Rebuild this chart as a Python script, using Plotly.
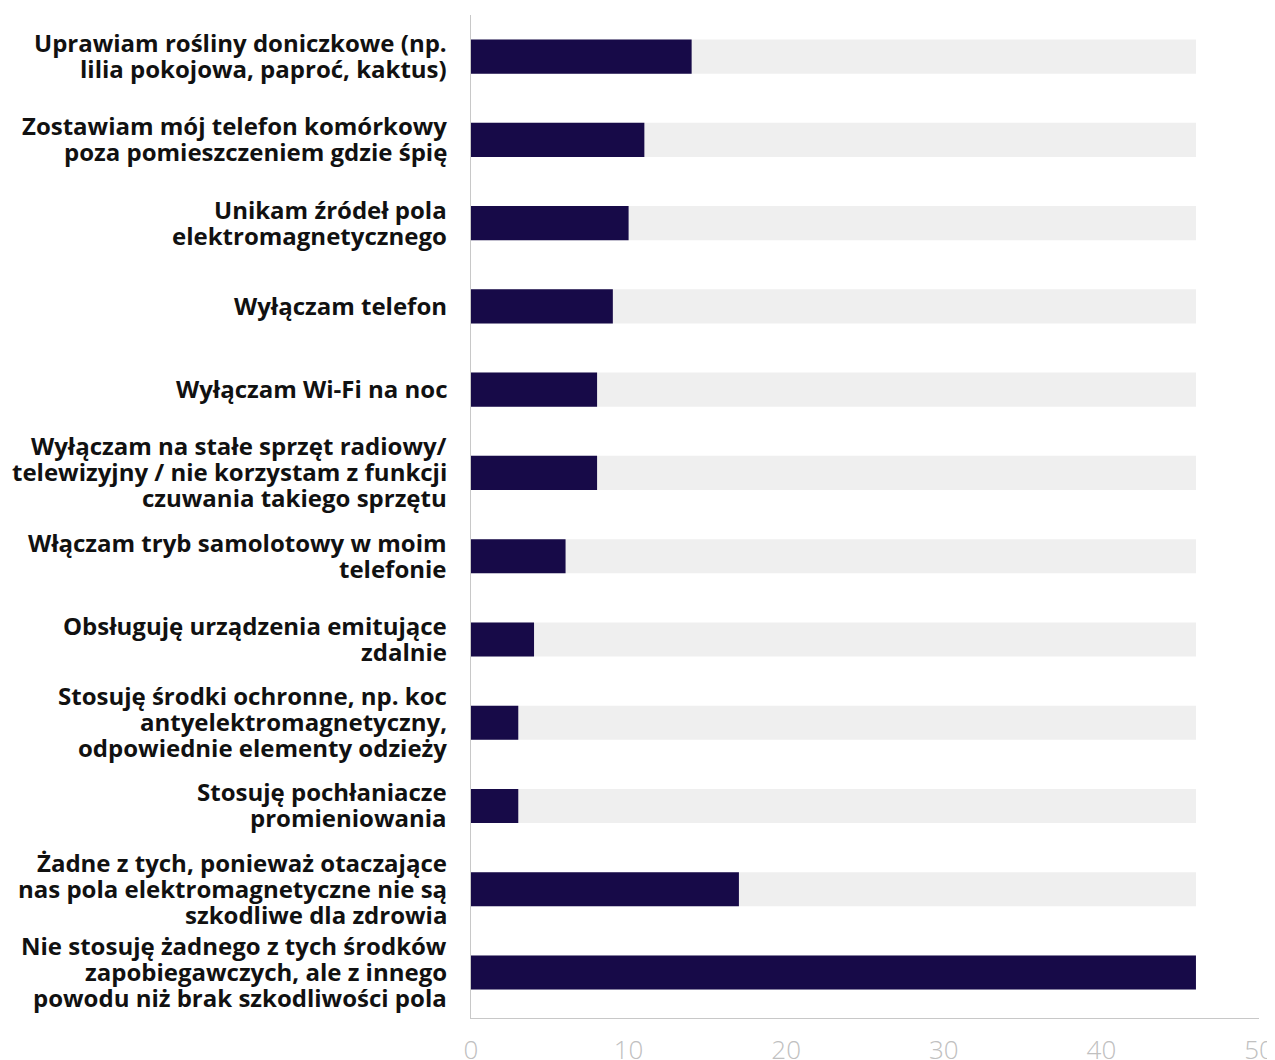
import plotly.graph_objects as go

categories = [
    "Uprawiam rośliny doniczkowe (np.<br>lilia pokojowa, paproć, kaktus)",
    "Zostawiam mój telefon komórkowy<br>poza pomieszczeniem gdzie śpię",
    "Unikam źródeł pola<br>elektromagnetycznego",
    "Wyłączam telefon",
    "Wyłączam Wi-Fi na noc",
    "Wyłączam na stałe sprzęt radiowy/<br>telewizyjny / nie korzystam z funkcji<br>czuwania takiego sprzętu",
    "Włączam tryb samolotowy w moim<br>telefonie",
    "Obsługuję urządzenia emitujące<br>zdalnie",
    "Stosuję środki ochronne, np. koc<br>antyelektromagnetyczny,<br>odpowiednie elementy odzieży",
    "Stosuję pochłaniacze<br>promieniowania",
    "Żadne z tych, ponieważ otaczające<br>nas pola elektromagnetyczne nie są<br>szkodliwe dla zdrowia",
    "Nie stosuję żadnego z tych środków<br>zapobiegawczych, ale z innego<br>powodu niż brak szkodliwości pola",
]
values = [14, 11, 10, 9, 8, 8, 6, 4, 3, 3, 17, 46]
background = [46] * len(values)
x_ticks = [0, 10, 20, 30, 40, 50]

fig = go.Figure()
fig.add_trace(go.Bar(
    y=categories, x=background, orientation="h",
    marker=dict(color="#efefef", line=dict(width=0)),
    width=0.41, hoverinfo="skip", showlegend=False,
))
fig.add_trace(go.Bar(
    y=categories, x=values, orientation="h",
    marker=dict(color="#170a48", line=dict(width=0)),
    width=0.41, showlegend=False,
))

# category labels, one annotation per line for tight line spacing
LINE_H = 26
for cat in categories:
    lines = cat.split("<br>")
    n = len(lines)
    for i, line in enumerate(lines):
        fig.add_annotation(
            x=0, xref="paper", y=cat, yref="y",
            text=line, showarrow=False,
            xanchor="right", yanchor="middle", align="right",
            xshift=-22, yshift=((n - 1) / 2 - i) * LINE_H + 1,
            font=dict(family="Open Sans", size=24, color="#111111", weight=700),
        )

fig.update_layout(
    width=1275, height=1060,
    margin=dict(l=463, r=24, t=7, b=50),
    barmode="overlay",
    plot_bgcolor="white", paper_bgcolor="white",
    font=dict(family="Open Sans", size=23, color="#111111"),
)
fig.update_xaxes(
    range=[0, 50], tickvals=x_ticks, showgrid=False, zeroline=False,
    showline=True, linecolor="#c8c8c8", linewidth=1, automargin=False,
    tickfont=dict(family="Open Sans", size=26, color="#c0c0c0", weight=300),
    ticks="", ticklabelstandoff=9,
)
fig.update_yaxes(
    autorange="reversed", showgrid=False, zeroline=False,
    showline=True, linecolor="#c8c8c8", linewidth=1, automargin=False,
    showticklabels=False, ticks="",
)

fig.write_html("out.html")
